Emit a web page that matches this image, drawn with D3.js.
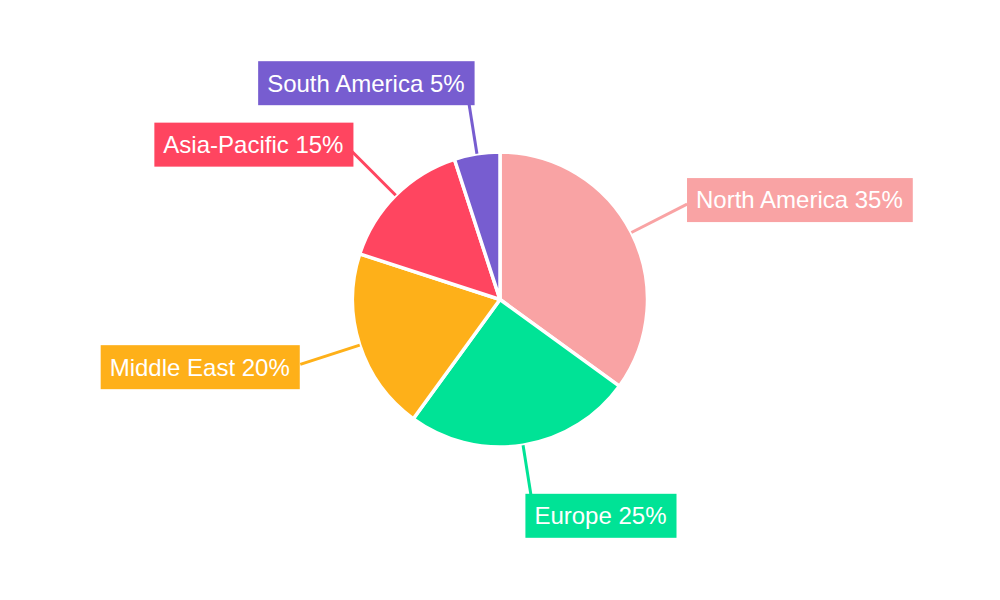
<!DOCTYPE html>
<html><head><meta charset="utf-8">
<script src="https://cdn.jsdelivr.net/npm/d3@7"></script>
<style>body{margin:0;background:#fff}svg{display:block}</style>
</head><body>
<svg id="chart" width="1000" height="600"></svg>
<script>
const categories = ["North America", "Europe", "Middle East", "Asia-Pacific", "South America"];
const values = [35, 25, 20, 15, 5];
const colors = ["#F9A3A4", "#00E396", "#FEB019", "#FF4560", "#775DD0"];

const svg = d3.select("#chart");
const cx = 500, cy = 299.5, R = 147.5, Rl = 210;
const g = svg.append("g").attr("transform", `translate(${cx},${cy})`);
const data = categories.map((c, i) => ({ name: c, value: values[i], color: colors[i] }));
const pie = d3.pie().value(d => d.value).sort(null);
const arcs = pie(data);
const arc = d3.arc().innerRadius(0).outerRadius(R);
const total = d3.sum(values);

g.selectAll("path.slice").data(arcs).join("path")
  .attr("class", "slice")
  .attr("d", arc)
  .attr("fill", d => d.data.color)
  .attr("stroke", "#fff").attr("stroke-width", 3.5).attr("stroke-linejoin", "round");

arcs.forEach(a => {
  const m = (a.startAngle + a.endAngle) / 2;
  const s = Math.sin(m), c = -Math.cos(m);
  const x0 = R * s, y0 = R * c, x1 = Rl * s, y1 = Rl * c;
  g.append("line").attr("x1", x0).attr("y1", y0).attr("x2", x1).attr("y2", y1)
    .attr("stroke", a.data.color).attr("stroke-width", 3);
  const lg = g.append("g");
  const txt = lg.append("text")
    .attr("font-family", "Liberation Sans, Arial, sans-serif")
    .attr("font-size", 24).attr("fill", "#fff")
    .text(`${a.data.name} ${Math.round(a.data.value / total * 100)}%`);
  const w = txt.node().getComputedTextLength() + 19;
  const h = 44;
  const off = -9 + 10 * Math.abs(s);
  let left = s >= 0 ? x1 + off : x1 - off - w;
  const top = y1 + 9 * c - h / 2;
  lg.insert("rect", "text").attr("x", left).attr("y", top).attr("width", w).attr("height", h)
    .attr("fill", a.data.color);
  txt.attr("x", left + 9).attr("y", top + h / 2).attr("dy", "0.35em");
});
</script>
</body></html>
